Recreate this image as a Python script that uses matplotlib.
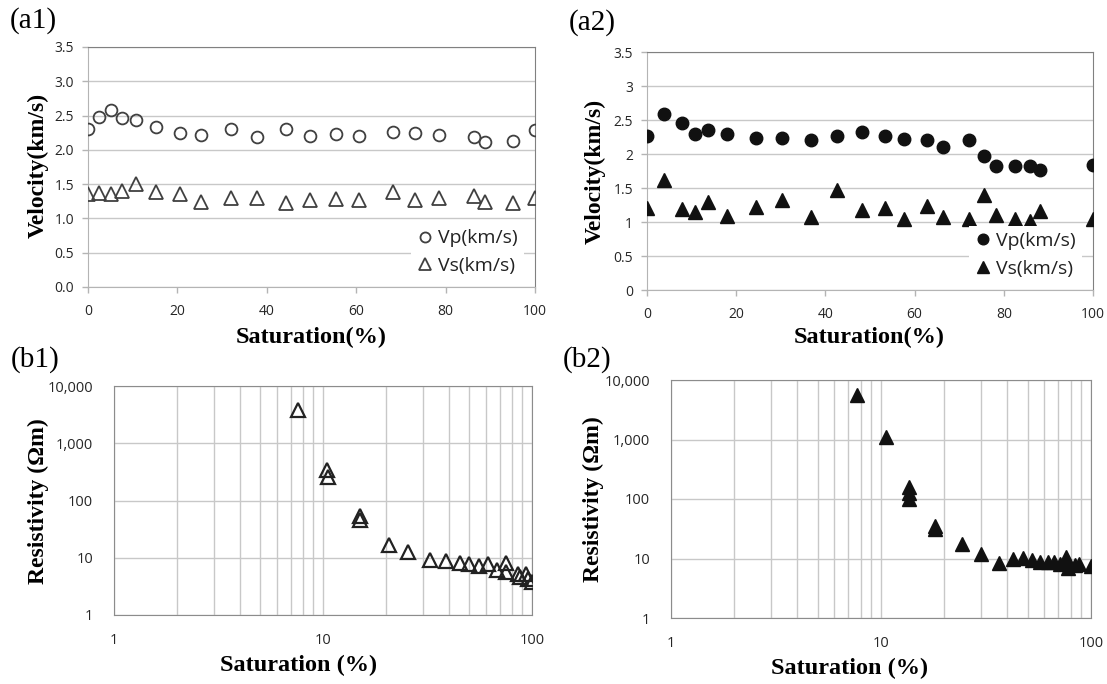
import matplotlib
matplotlib.use('Agg')
import matplotlib.pyplot as plt
import matplotlib.ticker as ticker

W, H = 1107, 684

# (a1) velocity vs saturation, open markers
sat_a1 = [0, 2.4, 5.2, 7.7, 10.7, 15.2, 20.5, 25.2, 32.0, 37.7, 44.3, 49.7, 55.4,
          60.7, 68.3, 73.2, 78.5, 86.3, 88.9, 95.0, 100]
vp_a1 = [2.31, 2.48, 2.58, 2.47, 2.44, 2.33, 2.25, 2.22, 2.31, 2.19, 2.30, 2.20, 2.23,
         2.20, 2.26, 2.24, 2.21, 2.19, 2.11, 2.13, 2.29]
vs_a1 = [1.35, 1.37, 1.36, 1.40, 1.50, 1.39, 1.35, 1.24, 1.30, 1.30, 1.22, 1.27, 1.29,
         1.27, 1.39, 1.27, 1.30, 1.33, 1.24, 1.22, 1.30]

# (a2) velocity vs saturation, filled markers
sat_a2 = [0, 3.8, 7.9, 10.7, 13.7, 18.0, 24.5, 30.2, 36.8, 42.7, 48.1, 53.4, 57.6,
          62.8, 66.4, 72.3, 75.5, 78.2, 82.6, 85.9, 88.2, 100]
vp_a2 = [2.26, 2.59, 2.45, 2.29, 2.35, 2.29, 2.23, 2.23, 2.20, 2.27, 2.33, 2.26, 2.22,
         2.21, 2.10, 2.21, 1.97, 1.83, 1.82, 1.83, 1.76, 1.84]
vs_a2 = [1.21, 1.62, 1.19, 1.15, 1.29, 1.09, 1.22, 1.33, 1.07, 1.47, 1.18, 1.20, 1.04,
         1.23, 1.08, 1.04, 1.40, 1.11, 1.05, 1.02, 1.16, 1.05]

# (b1) resistivity vs saturation
sat_b1 = [7.6, 10.5, 10.6, 15.0, 15.0, 20.8, 25.6, 32.6, 38.6, 45.1, 49.8, 55.6, 61.4,
          68.1, 74.7, 75.5, 86.0, 87.3, 93.7, 95.5, 100]
res_b1 = [3780, 347, 258, 53, 46, 16.9, 12.4, 9.0, 8.6, 8.1, 7.8, 7.1, 7.8,
          6.2, 8.1, 5.7, 5.1, 4.6, 5.1, 4.3, 3.7]

# (b2) resistivity vs saturation
sat_b2 = [7.7, 10.6, 13.6, 13.6, 13.6, 18.0, 18.1, 24.4, 29.9, 36.5, 42.3, 47.5, 52.6,
          57.0, 62.3, 66.5, 71.0, 75.8, 75.8, 78.1, 83.8, 87.5, 100]
res_b2 = [5600, 1120, 160, 125, 100, 34.5, 31, 17.5, 12.0, 8.4, 9.8, 10.2, 9.3,
          8.6, 8.6, 8.6, 8.2, 10.8, 8.6, 6.9, 7.85, 8.15, 7.55]

log_ticks = [1, 10, 100]
res_ticks = [1, 10, 100, 1000, 10000]

TICK_FONT = 'Open Sans'
SERIF = 'Liberation Serif'
GRID = '#c8c8c8'

plt.rcParams['font.family'] = [TICK_FONT, 'DejaVu Sans']


def px_rect(l, t, r, b):
    return [l / W, 1 - b / H, (r - l) / W, (b - t) / H]


fig = plt.figure(figsize=(W / 100, H / 100), dpi=100)


def style_velocity(ax, yfmt):
    ax.set_xlim(0, 100)
    ax.set_ylim(0, 3.5)
    ax.xaxis.set_major_locator(ticker.MultipleLocator(20))
    ax.yaxis.set_major_locator(ticker.MultipleLocator(0.5))
    ax.yaxis.set_major_formatter(ticker.FuncFormatter(yfmt))
    ax.grid(axis='y', color=GRID, linewidth=1.0, zorder=0)
    ax.set_axisbelow(True)
    for s in ['left', 'bottom']:
        ax.spines[s].set_color('#b4b4b4')
    for s in ['top', 'right']:
        ax.spines[s].set_color('#808080')
    ax.tick_params(length=4, width=1, color='#b4b4b4', labelsize=10,
                   labelcolor='#262626')
    ax.tick_params(axis='y', pad=6)
    ax.tick_params(axis='x', pad=8)


def style_resist(ax):
    ax.set_xscale('log')
    ax.set_yscale('log')
    ax.set_xlim(1, 100)
    ax.set_ylim(1, 10000)
    ax.xaxis.set_major_locator(ticker.FixedLocator(log_ticks))
    ax.yaxis.set_major_locator(ticker.FixedLocator(res_ticks))
    ax.xaxis.set_minor_locator(ticker.LogLocator(base=10, subs=range(2, 10)))
    ax.yaxis.set_minor_locator(ticker.NullLocator())
    ax.xaxis.set_major_formatter(ticker.FuncFormatter(lambda v, p: f'{int(v):,}'))
    ax.yaxis.set_major_formatter(ticker.FuncFormatter(lambda v, p: f'{int(v):,}'))
    ax.xaxis.set_minor_formatter(ticker.NullFormatter())
    ax.grid(which='major', color=GRID, linewidth=1.0, zorder=0)
    ax.grid(which='minor', axis='x', color=GRID, linewidth=1.0, zorder=0)
    ax.set_axisbelow(True)
    for s in ax.spines.values():
        s.set_color('#8c8c8c')
    ax.tick_params(which='both', length=0, labelsize=10.5, labelcolor='#262626')
    ax.tick_params(axis='y', pad=15)
    ax.tick_params(axis='x', pad=13)


def add_legend(ax):
    leg = ax.legend(loc='lower right', bbox_to_anchor=(0.997, -0.015), frameon=True,
                    facecolor='white', edgecolor='none', framealpha=1, fancybox=False,
                    handlelength=0.8, handletextpad=0.3, borderpad=0.3,
                    labelspacing=0.5, prop={'family': TICK_FONT, 'size': 14},
                    markerscale=0.85)
    for t in leg.get_texts():
        t.set_color('#222222')
    return leg


# (a1)
ax1 = fig.add_axes(px_rect(88, 47, 535, 287))
ax1.plot(sat_a1, vp_a1, 'o', ms=8.5, mfc='none', mec='#404040', mew=1.3,
         label='Vp(km/s)', zorder=3)
ax1.plot(sat_a1, vs_a1, '^', ms=9.5, mfc='none', mec='#404040', mew=1.3,
         label='Vs(km/s)', zorder=3)
style_velocity(ax1, lambda v, p: f'{v:.1f}')
add_legend(ax1)

# (a2)
ax2 = fig.add_axes(px_rect(647, 52, 1093, 290))
ax2.plot(sat_a2, vp_a2, 'o', ms=9, color='#111111', label='Vp(km/s)', zorder=3)
ax2.plot(sat_a2, vs_a2, '^', ms=10, color='#111111', label='Vs(km/s)', zorder=3)
style_velocity(ax2, lambda v, p: f'{v:g}')
add_legend(ax2)

# (b1)
ax3 = fig.add_axes(px_rect(114, 386, 532, 615))
ax3.plot(sat_b1, res_b1, '^', ms=10, mfc='none', mec='#222222', mew=1.6, zorder=3)
style_resist(ax3)

# (b2)
ax4 = fig.add_axes(px_rect(671, 380, 1091, 618))
ax4.plot(sat_b2, res_b2, '^', ms=10.5, color='#111111', zorder=3)
style_resist(ax4)

# panel tags and axis titles
for txt, x, y in [('(a1)', 10, 7), ('(a2)', 569, 9), ('(b1)', 11, 346), ('(b2)', 563, 346)]:
    fig.text(x / W, 1 - y / H, txt, family=SERIF, fontsize=21, va='top', ha='left')

for txt, x, y in [('Saturation(%)', 311, 337), ('Saturation(%)', 869, 337),
                  ('Saturation (%)', 299, 665), ('Saturation (%)', 850, 668)]:
    fig.text(x / W, 1 - y / H, txt, family=SERIF, fontweight='bold', fontsize=17.5,
             ha='center', va='center')

for txt, x, y in [('Velocity(km/s)', 38, 165), ('Velocity(km/s)', 595, 171),
                  ('Resistivity (Ωm)', 38, 501), ('Resistivity (Ωm)', 593, 499)]:
    fig.text(x / W, 1 - y / H, txt, family=SERIF, fontweight='bold', fontsize=17,
             ha='center', va='center', rotation=90)

fig.savefig('out.png', dpi=100, facecolor='white')
